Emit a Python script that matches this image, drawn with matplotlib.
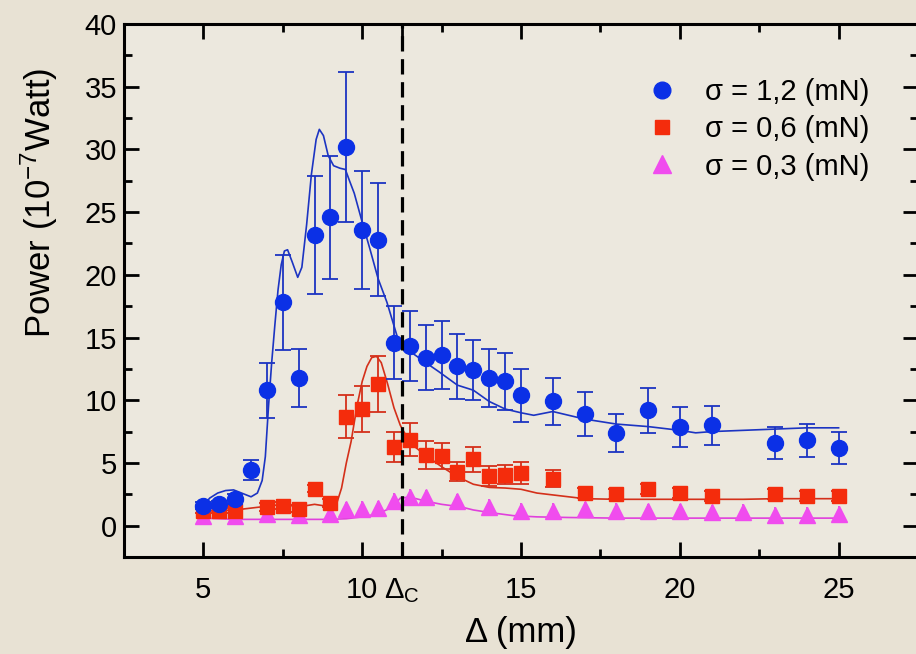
import matplotlib
matplotlib.use("Agg")
import matplotlib.pyplot as plt
from matplotlib.lines import Line2D

plt.rcParams['font.family'] = ['Liberation Sans', 'DejaVu Sans']
plt.rcParams['mathtext.fontset'] = 'custom'
plt.rcParams['mathtext.rm'] = 'Liberation Sans'
plt.rcParams['mathtext.it'] = 'Liberation Sans:italic'
plt.rcParams['mathtext.bf'] = 'Liberation Sans:bold'
plt.rcParams['mathtext.sf'] = 'Liberation Sans'

# ---------------- data ----------------
x_b = [5, 5.5, 6, 6.5, 7, 7.5, 8, 8.5, 9, 9.5, 10, 10.5, 11, 11.5, 12, 12.5, 13, 13.5,
       14, 14.5, 15, 16, 17, 18, 19, 20, 21, 23, 24, 25]
y_b = [1.6, 1.7, 2.1, 4.4, 10.8, 17.8, 11.8, 23.2, 24.6, 30.2, 23.6, 22.8, 14.6, 14.3,
       13.4, 13.6, 12.7, 12.4, 11.8, 11.5, 10.4, 9.9, 8.9, 7.4, 9.2, 7.9, 8.0, 6.6, 6.8, 6.2]
e_b = [0.3, 0.3, 0.4, 0.8, 2.2, 3.8, 2.3, 4.7, 4.9, 6.0, 4.7, 4.5, 2.9, 2.8, 2.6, 2.7,
       2.6, 2.4, 2.3, 2.3, 2.1, 1.9, 1.75, 1.5, 1.8, 1.6, 1.55, 1.3, 1.3, 1.25]

x_r = [5, 5.5, 6, 7, 7.5, 8, 8.5, 9, 9.5, 10, 10.5, 11, 11.5, 12, 12.5, 13, 13.5, 14,
       14.5, 15, 16, 17, 18, 19, 20, 21, 23, 24, 25]
y_r = [1.2, 1.2, 1.2, 1.5, 1.6, 1.35, 2.95, 1.8, 8.7, 9.3, 11.3, 6.3, 6.85, 5.65, 5.55,
       4.3, 5.3, 3.95, 4.05, 4.2, 3.75, 2.6, 2.5, 2.95, 2.6, 2.35, 2.5, 2.4, 2.4]
e_r = [0.2, 0.2, 0.2, 0.3, 0.3, 0.3, 0.3, 0.3, 1.7, 1.8, 2.25, 1.2, 1.3, 1.1, 1.05, 0.75,
       1.0, 0.78, 0.75, 0.86, 0.7, 0.4, 0.4, 0.4, 0.4, 0.4, 0.4, 0.4, 0.4]

x_m = [5, 6, 7, 8, 9, 9.5, 10, 10.5, 11, 11.5, 12, 13, 14, 15, 16, 17, 18, 19, 20, 21,
       22, 23, 24, 25]
y_m = [0.8, 0.8, 0.95, 0.85, 0.9, 1.3, 1.35, 1.4, 2.0, 2.3, 2.25, 1.95, 1.5, 1.2, 1.2,
       1.3, 1.2, 1.15, 1.15, 1.05, 1.1, 0.85, 0.85, 0.95]
e_m = [0.6] * len(x_m)

cx_b = [5.0, 5.2, 5.45, 5.7, 5.95, 6.25, 6.5, 6.7, 6.85, 6.95, 7.05, 7.15, 7.25, 7.35,
        7.45, 7.55, 7.65, 7.8, 7.97, 8.1, 8.25, 8.4, 8.55, 8.65, 8.78, 8.93, 9.1, 9.3,
        9.47, 9.6, 9.75, 10.0, 10.25, 10.5, 10.78, 11.1, 11.5, 12.0, 12.4, 13.0, 13.5,
        14.0, 14.5, 15.0, 15.4, 16.0, 17.0, 18.0, 19.0, 20.0, 20.5, 21.0, 22.0, 23.0,
        24.0, 25.0]
cy_b = [1.6, 2.2, 2.6, 2.8, 2.85, 2.55, 2.3, 2.6, 3.6, 5.5, 9.5, 13.0, 16.0, 18.8,
        20.8, 21.9, 22.0, 21.0, 19.8, 20.6, 24.0, 28.0, 30.8, 31.6, 31.1, 29.5, 28.7,
        28.5, 28.4, 27.5, 26.5, 24.2, 22.0, 19.7, 17.8, 15.1, 13.9, 13.0, 12.3, 11.2,
        10.8, 9.9, 9.3, 9.0, 8.8, 9.1, 8.5, 8.1, 7.9, 7.6, 7.4, 7.5, 7.6, 7.7, 7.8, 7.8]

cx_r = [5.0, 5.5, 6.0, 6.5, 7.0, 7.5, 8.0, 8.5, 9.0, 9.2, 9.35, 9.5, 9.65, 9.84, 10.0,
        10.15, 10.3, 10.45, 10.6, 10.8, 11.0, 11.2, 11.4, 11.6, 12.0, 12.5, 13.0, 13.5,
        14.0, 14.5, 15.0, 15.5, 16.0, 16.5, 17.0, 18.0, 19.0, 20.0, 21.0, 22.0, 23.0,
        24.0, 25.0]
cy_r = [1.15, 1.2, 1.25, 1.4, 1.55, 1.7, 1.5, 1.7, 1.5, 1.8, 3.0, 5.0, 6.7, 9.6, 11.5,
        12.7, 13.4, 13.5, 13.0, 11.3, 9.4, 8.0, 7.1, 6.4, 5.6, 4.7, 3.9, 3.3, 3.05, 3.0,
        2.9, 2.6, 2.45, 2.3, 2.15, 2.1, 2.1, 2.1, 2.1, 2.1, 2.15, 2.15, 2.15]

cx_m = [5.0, 6.0, 7.0, 8.0, 9.0, 9.5, 10.0, 10.5, 10.8, 11.0, 11.2, 11.4, 11.7, 12.0,
        12.5, 13.1, 13.5, 14.0, 14.75, 15.5, 16.5, 18.0, 20.0, 22.0, 24.0, 25.0]
cy_m = [0.6, 0.5, 0.5, 0.5, 0.5, 0.55, 0.7, 0.95, 1.3, 1.6, 2.2, 2.25, 2.15, 1.95,
        1.7, 1.5, 1.25, 1.05, 0.8, 0.7, 0.65, 0.6, 0.6, 0.6, 0.6, 0.6]

delta_c = 11.25
x_ticks = [5, 10, delta_c, 15, 20, 25]
x_tick_labels = ['5', '10', r'$\Delta_{\mathrm{C}}$', '15', '20', '25']
x_minor = [7.5, 12.5, 17.5, 22.5]
y_ticks = [0, 5, 10, 15, 20, 25, 30, 35, 40]
y_minor = [2.5, 7.5, 12.5, 17.5, 22.5, 27.5, 32.5, 37.5]
labels = ['σ = 1,2 (mN)', 'σ = 0,6 (mN)', 'σ = 0,3 (mN)']

# ---------------- style ----------------
blue_m, blue_l = '#0b30e6', '#1c34c2'
red_m, red_l = '#f42c0c', '#d4301a'
mag_m, mag_l = '#f04cee', '#e040dc'

fig = plt.figure(figsize=(9.16, 6.54), dpi=100, facecolor='#e8e2d4')
ax = fig.add_axes([124/916, 1 - 557/654, (918 - 124)/916, (557 - 24)/654])
ax.set_facecolor('#ece8de')

# curves
ax.plot(cx_m, cy_m, color=mag_l, lw=1.2, zorder=2)
ax.plot(cx_r, cy_r, color=red_l, lw=1.2, zorder=2)
ax.plot(cx_b, cy_b, color=blue_l, lw=1.2, zorder=2)

# points with error bars
ax.errorbar(x_m, y_m, yerr=e_m, fmt='^', color=mag_m, ecolor=mag_l, ms=12,
            mec=mag_m, elinewidth=1.2, capsize=0, zorder=3)
ax.errorbar(x_r, y_r, yerr=e_r, fmt='s', color=red_m, ecolor=red_l, ms=10,
            mec=red_m, elinewidth=1.3, capsize=5.5, capthick=1.3, zorder=4)
ax.errorbar(x_b, y_b, yerr=e_b, fmt='o', color=blue_m, ecolor=blue_l, ms=11.5,
            mec=blue_m, elinewidth=1.3, capsize=5.5, capthick=1.3, zorder=5)

# critical line
ax.axvline(delta_c, color='black', lw=2.3, dashes=(4.8, 2.4), zorder=6)

ax.set_xlim(2.5, 27.5)
ax.set_ylim(-2.5, 40)
ax.set_xticks(x_ticks)
ax.set_xticklabels(x_tick_labels)
ax.set_xticks(x_minor, minor=True)
ax.set_yticks(y_ticks)
ax.set_yticks(y_minor, minor=True)

for s in ax.spines.values():
    s.set_linewidth(2.2)
ax.tick_params(which='both', direction='in', top=True, right=True, width=2,
               labelsize=21)
ax.tick_params(which='major', length=11)
ax.tick_params(which='minor', length=5.5)
ax.tick_params(axis='x', which='major', pad=14)
ax.tick_params(axis='y', which='major', pad=5)

ax.set_xlabel(r'Δ (mm)', fontsize=25, labelpad=8)
ax.set_ylabel(r'Power (10$^{\mathsf{-7}}$Watt)', fontsize=25)
ax.yaxis.set_label_coords((60 - 124) / 794, (557 - 203) / 533)

handles = [Line2D([], [], ls='none', marker='o', ms=12, color=blue_m),
           Line2D([], [], ls='none', marker='s', ms=9.5, color=red_m),
           Line2D([], [], ls='none', marker='^', ms=13.5, color=mag_m)]
ax.legend(handles, labels, loc='upper left', bbox_to_anchor=(644/916, 1 - 78/654),
          bbox_transform=fig.transFigure, frameon=False, fontsize=21,
          handlelength=1.2, handletextpad=0.9, labelspacing=0.32,
          borderpad=0, borderaxespad=0)

fig.savefig('out.png', dpi=100, facecolor=fig.get_facecolor())
